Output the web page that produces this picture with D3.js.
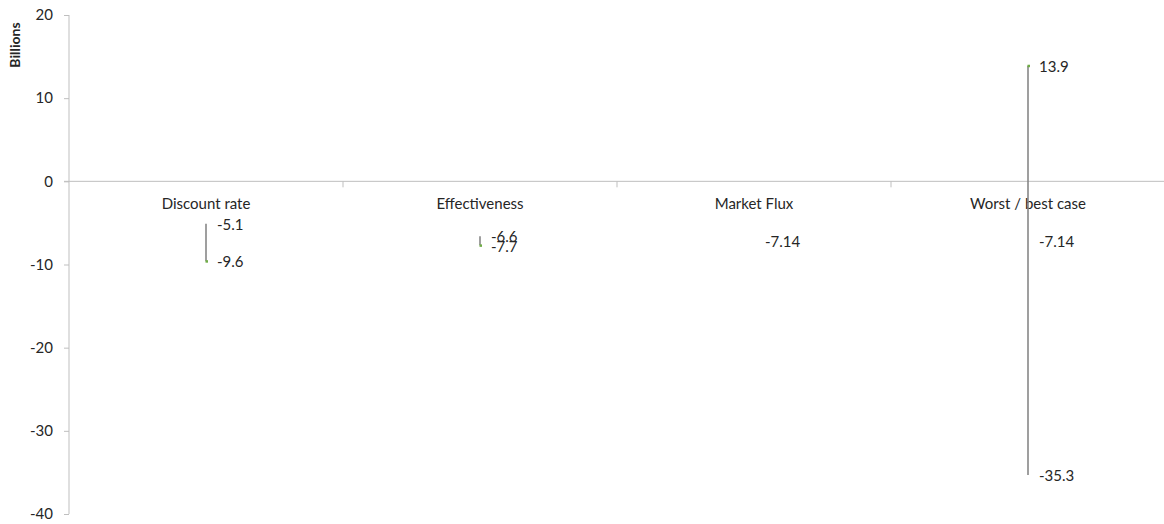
<!DOCTYPE html>
<html><head><meta charset="utf-8">
<script src="https://cdn.jsdelivr.net/npm/d3@7"></script>
<style>body{margin:0;background:#fff}svg{display:block}text{font-family:Lato,"Open Sans",sans-serif;fill:#262626}</style>
</head><body><svg id="c" width="1164" height="524"></svg>
<script>
const categories = ["Discount rate","Effectiveness","Market Flux","Worst / best case"];
const highValues = [-5.1, -6.6, null, 13.9];
const lowValues = [-9.6, -7.7, null, -35.3];
const closeValues = [-9.6, -7.7, null, 13.9];
const baseValues = [null, null, -7.14, -7.14];
const highLabels = ["-5.1","-6.6",null,"13.9"];
const lowLabels = ["-9.6","-7.7",null,"-35.3"];
const baseLabels = [null,null,"-7.14","-7.14"];
const yTicks = [20,10,0,-10,-20,-30,-40];

const FS = "15px";
const svg = d3.select("#c");
const x = d3.scaleBand().domain(categories).range([69,1165]);
const y = d3.scaleLinear().domain([-40,20]).range([514,15]);
const axisColor = "#bfbfbf";

// y axis
const ya = svg.append("g").attr("transform","translate(69,0)")
  .call(d3.axisLeft(y).tickValues(yTicks).tickSize(5).tickPadding(11).tickFormat(d => String(d)));
ya.select(".domain").attr("stroke",axisColor).attr("d","M0,"+y(20)+"V"+y(-40));
ya.selectAll(".tick line").attr("stroke",axisColor);
ya.selectAll(".tick text").style("font-size",FS).style("fill","#262626").attr("font-family","Lato");

// x axis at zero
const xa = svg.append("g").attr("transform","translate(0,"+y(0)+")");
xa.append("line").attr("x1",64).attr("x2",1165).attr("stroke",axisColor);
xa.selectAll(".xt").data(categories.slice(1)).enter().append("line")
  .attr("x1",d=>x(d)).attr("x2",d=>x(d)).attr("y1",0).attr("y2",6).attr("stroke",axisColor);
xa.selectAll(".cl").data(categories).enter().append("text")
  .attr("x",d=>x(d)+x.bandwidth()/2).attr("y",28).attr("text-anchor","middle")
  .style("font-size",FS).text(d=>d);

// y title
svg.append("text").attr("transform","translate(20,45) rotate(-90)").attr("text-anchor","middle")
  .style("font-size","14px").style("font-weight","bold").text("Billions");

const cx = i => x(categories[i]) + x.bandwidth()/2;
// high-low lines
categories.forEach((c,i)=>{
  if(highValues[i]!=null){
    svg.append("line").attr("x1",cx(i)).attr("x2",cx(i)).attr("y1",y(highValues[i])).attr("y2",y(lowValues[i]))
      .attr("stroke","#7f7f7f").attr("stroke-width",1.5);
  }
  if(closeValues[i]!=null){
    svg.append("rect").attr("x",cx(i)-0.5).attr("y",y(closeValues[i])-1).attr("width",2.5).attr("height",2.5)
      .attr("fill","#70ad47");
  }
});
const lab = (vals, labels) => categories.forEach((c,i)=>{
  if(vals[i]==null) return;
  svg.append("text").attr("x",cx(i)+11).attr("y",y(vals[i])+1).attr("dy","0.35em")
    .style("font-size",FS).text(labels[i]);
});
lab(highValues, highLabels);
lab(lowValues, lowLabels);
lab(baseValues, baseLabels);
</script></body></html>
